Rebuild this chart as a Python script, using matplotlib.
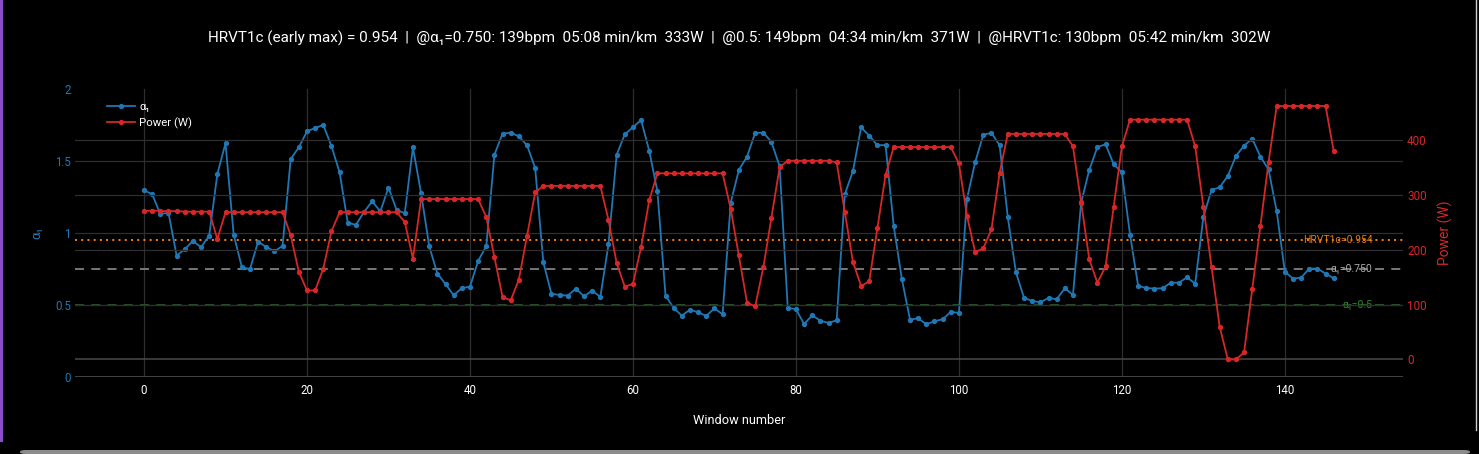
import numpy as np
import matplotlib
matplotlib.use('Agg')
import matplotlib.pyplot as plt
from matplotlib.patches import FancyBboxPatch
from matplotlib.lines import Line2D

# DFA alpha1 per window
alpha1 = [
    1.297, 1.269, 1.132, 1.141, 0.843, 0.887, 0.945, 0.901, 0.982, 1.410,
    1.623, 0.989, 0.764, 0.748, 0.940, 0.903, 0.873, 0.910, 1.514, 1.595,
    1.706, 1.729, 1.750, 1.604, 1.421, 1.072, 1.056, 1.146, 1.220, 1.150,
    1.315, 1.160, 1.137, 1.595, 1.276, 0.908, 0.718, 0.646, 0.567, 0.618,
    0.627, 0.806, 0.908, 1.544, 1.690, 1.697, 1.671, 1.609, 1.452, 0.797,
    0.577, 0.570, 0.565, 0.614, 0.560, 0.600, 0.556, 0.922, 1.544, 1.685,
    1.734, 1.785, 1.570, 1.290, 0.565, 0.479, 0.426, 0.468, 0.449, 0.424,
    0.477, 0.435, 1.211, 1.438, 1.530, 1.695, 1.697, 1.632, 1.463, 0.479,
    0.472, 0.368, 0.428, 0.391, 0.375, 0.394, 1.269, 1.431, 1.733, 1.676,
    1.609, 1.611, 1.049, 0.681, 0.398, 0.408, 0.366, 0.387, 0.401, 0.452,
    0.445, 1.239, 1.493, 1.683, 1.695, 1.609, 1.111, 0.727, 0.549, 0.528,
    0.519, 0.549, 0.540, 0.616, 0.570, 1.211, 1.438, 1.597, 1.616, 1.477,
    1.421, 0.989, 0.632, 0.618, 0.614, 0.616, 0.655, 0.655, 0.692, 0.648,
    1.111, 1.299, 1.317, 1.396, 1.535, 1.607, 1.655, 1.530, 1.442, 1.151,
    0.732, 0.683, 0.690, 0.753, 0.753, 0.718, 0.685,
]

# power per window in W
power = [
    271, 272, 271, 271, 271, 270, 270, 270, 270, 220,
    269, 269, 269, 269, 269, 269, 269, 269, 227, 160,
    126, 126, 166, 234, 269, 269, 269, 269, 269, 269,
    269, 269, 251, 184, 293, 293, 293, 293, 293, 293,
    293, 293, 260, 187, 114, 108, 146, 225, 305, 317,
    317, 317, 317, 317, 317, 317, 317, 255, 176, 133,
    138, 205, 291, 340, 340, 340, 340, 340, 340, 340,
    340, 340, 275, 190, 104, 97, 168, 259, 351, 363,
    363, 363, 363, 363, 363, 360, 269, 178, 134, 143,
    240, 337, 388, 388, 388, 388, 388, 388, 388, 388,
    358, 262, 196, 203, 238, 341, 412, 412, 412, 412,
    412, 412, 412, 412, 389, 287, 183, 140, 170, 279,
    389, 438, 438, 438, 438, 438, 438, 438, 438, 389,
    279, 169, 60, 0, 0, 13, 128, 244, 360, 463,
    463, 463, 463, 463, 463, 463, 380,
]

windows = np.arange(len(alpha1))

hrvt1c = 0.954
ref_alpha = 0.750
ref_low = 0.5

title = ("HRVT1c (early max) = 0.954  |  @\u03b1\u2081=0.750: 139bpm  05:08 min/km  333W  |  "
         "@0.5: 149bpm  04:34 min/km  371W  |  @HRVT1c: 130bpm  05:42 min/km  302W")

BLUE = '#1f77b4'
RED = '#d62728'
FONT = ['Roboto', 'DejaVu Sans']
plt.rcParams['font.family'] = FONT


def main():
    fig = plt.figure(figsize=(14.79, 4.54), dpi=100, facecolor='black')
    W, H = 1479, 454
    left, right, top, bottom = 75, 1403, 89, 377
    ax = fig.add_axes([left / W, 1 - bottom / H, (right - left) / W, (bottom - top) / H])
    ax.set_facecolor('black')
    ax2 = ax.twinx()

    # grids
    for gx in range(0, 141, 20):
        ax.axvline(gx, color='#2e2e2e', lw=0.9, zorder=0)
    for gy in [0.5, 1.0, 1.5]:
        ax.axhline(gy, color='#2e2e2e', lw=0.9, zorder=0)
    ax.axhline(0, color='#555555', lw=1.1, zorder=0)
    for gp in [100, 200, 300, 400]:
        ax2.axhline(gp, color='#2e2e2e', lw=0.9, zorder=0)
    ax2.axhline(0, color='#4a4a4a', lw=1.1, zorder=0)

    # reference lines
    ax.axhline(hrvt1c, color='#ff7f0e', lw=1.4, ls=(0, (1, 2.2)), zorder=1)
    ax.axhline(ref_alpha, color='#808080', lw=1.3, ls=(0, (5, 4)), zorder=1)
    ax.axhline(ref_low, color='#2a5a2a', lw=1.3, ls=(0, (5, 4)), zorder=1)
    ax.text(0.977, hrvt1c, 'HRVT1c=0.954', transform=ax.get_yaxis_transform(),
            color='#e07b10', fontsize=7.5, ha='right', va='center', family=FONT, zorder=5)
    ax.text(0.977, ref_alpha, '\u03b1\u2081=0.750', transform=ax.get_yaxis_transform(),
            color='#aaaaaa', fontsize=7.5, ha='right', va='center', family=FONT, zorder=5)
    ax.text(0.977, ref_low, '\u03b1\u2081=0.5', transform=ax.get_yaxis_transform(),
            color='#2e8b2e', fontsize=7.5, ha='right', va='center', family=FONT, zorder=5)

    # data
    la, = ax.plot(windows, alpha1, color=BLUE, lw=1.3, marker='o', ms=2.8, zorder=3)
    lp, = ax2.plot(windows, power, color=RED, lw=1.3, marker='o', ms=2.8, zorder=3)

    ax.set_xlim(-8.47, 154.5)
    ax.set_ylim(0, 2)
    ax2.set_ylim(-32, 494)

    ax.set_xticks(range(0, 141, 20))
    ax.set_yticks([0, 0.5, 1, 1.5, 2])
    ax.set_yticklabels(['0', '0.5', '1', '1.5', '2'])
    ax2.set_yticks([0, 100, 200, 300, 400])

    for a in (ax, ax2):
        for s in a.spines.values():
            s.set_visible(False)
    ax.tick_params(axis='x', length=0, colors='white', labelsize=8.3, pad=5)
    ax.tick_params(axis='y', length=0, colors=BLUE, labelsize=8.3, pad=3)
    ax2.tick_params(axis='y', length=0, colors=RED, labelsize=8.5, pad=3)

    ax.set_xlabel('Window number', color='white', fontsize=9.2, labelpad=12)
    ax.set_ylabel('\u03b1\u2081', color=BLUE, fontsize=9.5, labelpad=8)
    ax2.set_ylabel('Power (W)', color=RED, fontsize=10, labelpad=8)

    fig.text((left + right) / 2 / W, 1 - 38 / H, title, color='white', fontsize=11,
             ha='center', va='center')

    leg = ax.legend([la, lp], ['\u03b1\u2081', 'Power (W)'], loc='upper left',
                    bbox_to_anchor=(0.021, 0.97), frameon=False, fontsize=8.2,
                    labelcolor='white', handlelength=2.4, handletextpad=0.4,
                    borderaxespad=0, labelspacing=0.45)
    leg.set_zorder(10)

    # screenshot frame bits
    fig.add_artist(Line2D([1 / W, 1 / W], [1 - 440 / H, 1], color='#8a4fc8', lw=2.2))
    fig.add_artist(Line2D([1476 / W, 1476 / W], [1 - 430 / H, 1], color='#cfcfcf', lw=1.0))
    fig.patches.append(FancyBboxPatch((20 / W, 0), 1450 / W, 4 / H,
                                      boxstyle='round,pad=0,rounding_size=0.004',
                                      transform=fig.transFigure, facecolor='#8c8c8c',
                                      edgecolor='none'))

    fig.savefig('out.png', dpi=100, facecolor='black')


if __name__ == "__main__":
    main()
